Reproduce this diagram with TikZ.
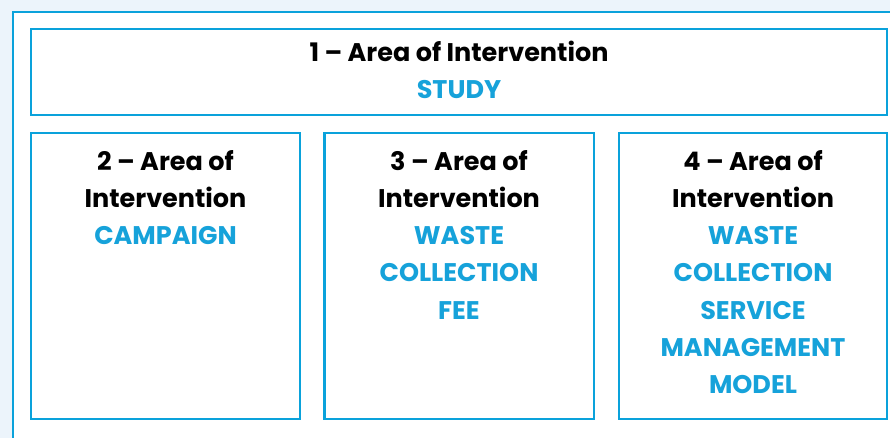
\documentclass[tikz,border=0pt]{standalone}
\usepackage{fontspec}
\setmainfont{Poppins}[UprightFont=* Bold]
\definecolor{framebl}{HTML}{0AA2DB}
\definecolor{textbl}{HTML}{16A2DA}
\definecolor{bgbl}{HTML}{ECF4FB}
\begin{document}
\begin{tikzpicture}[x=1pt,y=-1pt,
  box/.style={draw=framebl,line width=2.5pt},
  lbl/.style={align=center,inner sep=0pt,anchor=base,font=\fontsize{25.5}{37.3}\selectfont,text=black}]
\useasboundingbox (0,0) rectangle (890,438);
\clip (0,0) rectangle (890,438);
\fill[bgbl] (0,0) rectangle (890,438);
\draw[box,fill=white] (13,12) rectangle (905,460);
\draw[box] (31,29) rectangle (887,115);
\draw[box] (31,133) rectangle (300,419);
\draw[box] (324.5,133) rectangle (594,419);
\draw[box] (619,133) rectangle (887,419);
\node[lbl] (t1) at (459,98.5) {1 – Area of Intervention\\\textcolor{textbl}{STUDY}};
\node[lbl] (t2) at (165.5,244.6) {2 – Area of\\Intervention\\\textcolor{textbl}{CAMPAIGN}};
\node[lbl] (t3) at (459,319.2) {3 – Area of\\Intervention\\\textcolor{textbl}{WASTE}\\\textcolor{textbl}{COLLECTION}\\\textcolor{textbl}{FEE}};
\node[lbl] (t4) at (753,393.8) {4 – Area of\\Intervention\\\textcolor{textbl}{WASTE}\\\textcolor{textbl}{COLLECTION}\\\textcolor{textbl}{SERVICE}\\\textcolor{textbl}{MANAGEMENT}\\\textcolor{textbl}{MODEL}};
\end{tikzpicture}
\end{document}
